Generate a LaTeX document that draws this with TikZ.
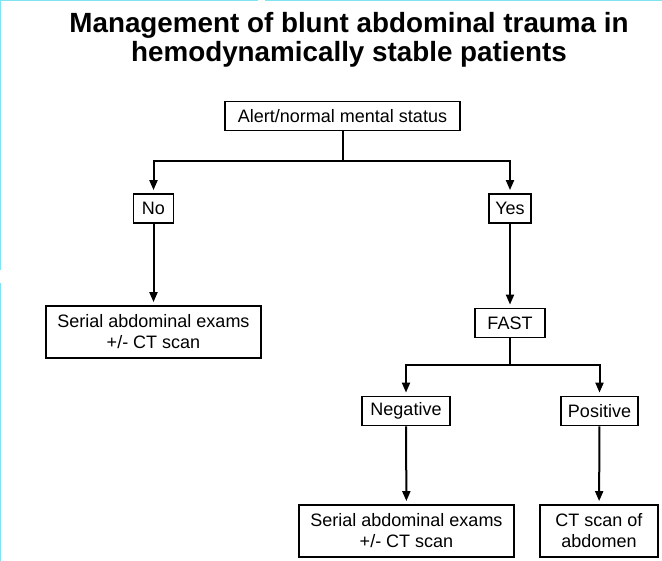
\documentclass[tikz,border=0pt]{standalone}
\usepackage{fontspec}
\setmainfont{Liberation Sans}
\usetikzlibrary{arrows.meta, positioning}

\begin{document}
\begin{tikzpicture}[x=1pt, y=-1pt,
    box/.style={draw=borderColour, line width=1.8pt, minimum height=29pt, inner sep=0pt,
        align=center, font=\fontsize{18}{21}\selectfont},
    tallbox/.style={box, minimum height=52pt},
    link/.style={draw=borderColour, line width=2pt},
    arrowlink/.style={link, -{Triangle[length=10pt, width=8pt]}, shorten >=3pt}]

    \definecolor{borderColour}{HTML}{000000}
    \definecolor{edgeColour}{HTML}{7FE3F2}

    % Keep the page the size of the picture
    \useasboundingbox (0,0) rectangle (662,561);

    % Light edge lines
    \draw[edgeColour, line width=1pt] (0,0.5) -- (258,0.5) (265,0.5) -- (662,0.5);
    \draw[edgeColour, line width=1pt] (0.5,0) -- (0.5,270) (0.5,283) -- (0.5,561);

    % Title
    \node[align=center, inner sep=0pt, font=\bfseries\fontsize{27.8}{29.5}\selectfont] (title) at (349,40)
        {Management of blunt abdominal trauma in\\hemodynamically stable patients};

    % Boxes
    \node[box, minimum width=235pt] (alert) at (342.5,116) {Alert/normal mental status};
    \node[box, minimum width=40pt] (no) at (153.5,208.5) {No};
    \node[box, minimum width=42pt] (yes) at (510,208.5) {Yes};
    \node[tallbox, minimum width=215pt] (serialA) at (153.5,332) {Serial abdominal exams\\+/- CT scan};
    \node[box, minimum width=70pt] (fast) at (510,323) {FAST};
    \node[box, minimum width=88pt] (neg) at (406,411) {Negative};
    \node[box, minimum width=77pt] (pos) at (599.5,411) {Positive};
    \node[tallbox, minimum width=215pt] (serialB) at (406.5,531) {Serial abdominal exams\\+/- CT scan};
    \node[tallbox, minimum width=118pt] (ct) at (599,531) {CT scan of\\abdomen};

    % Branch points
    \coordinate (splitA) at (alert.south |- 0,161);
    \coordinate (splitB) at (fast.south |- 0,365);

    % Connectors
    \draw[link] (alert) -- (splitA);
    \draw[arrowlink] (splitA) -| (no);
    \draw[arrowlink] (splitA) -| (yes);
    \draw[arrowlink] (no) -- (serialA);
    \draw[arrowlink] (yes) -- (fast);
    \draw[link] (fast) -- (splitB);
    \draw[arrowlink] (splitB) -| (neg);
    \draw[arrowlink] (splitB) -| (pos);
    \draw[arrowlink] (neg) -- (serialB);
    \draw[arrowlink] (pos) -- (ct);

\end{tikzpicture}
\end{document}
